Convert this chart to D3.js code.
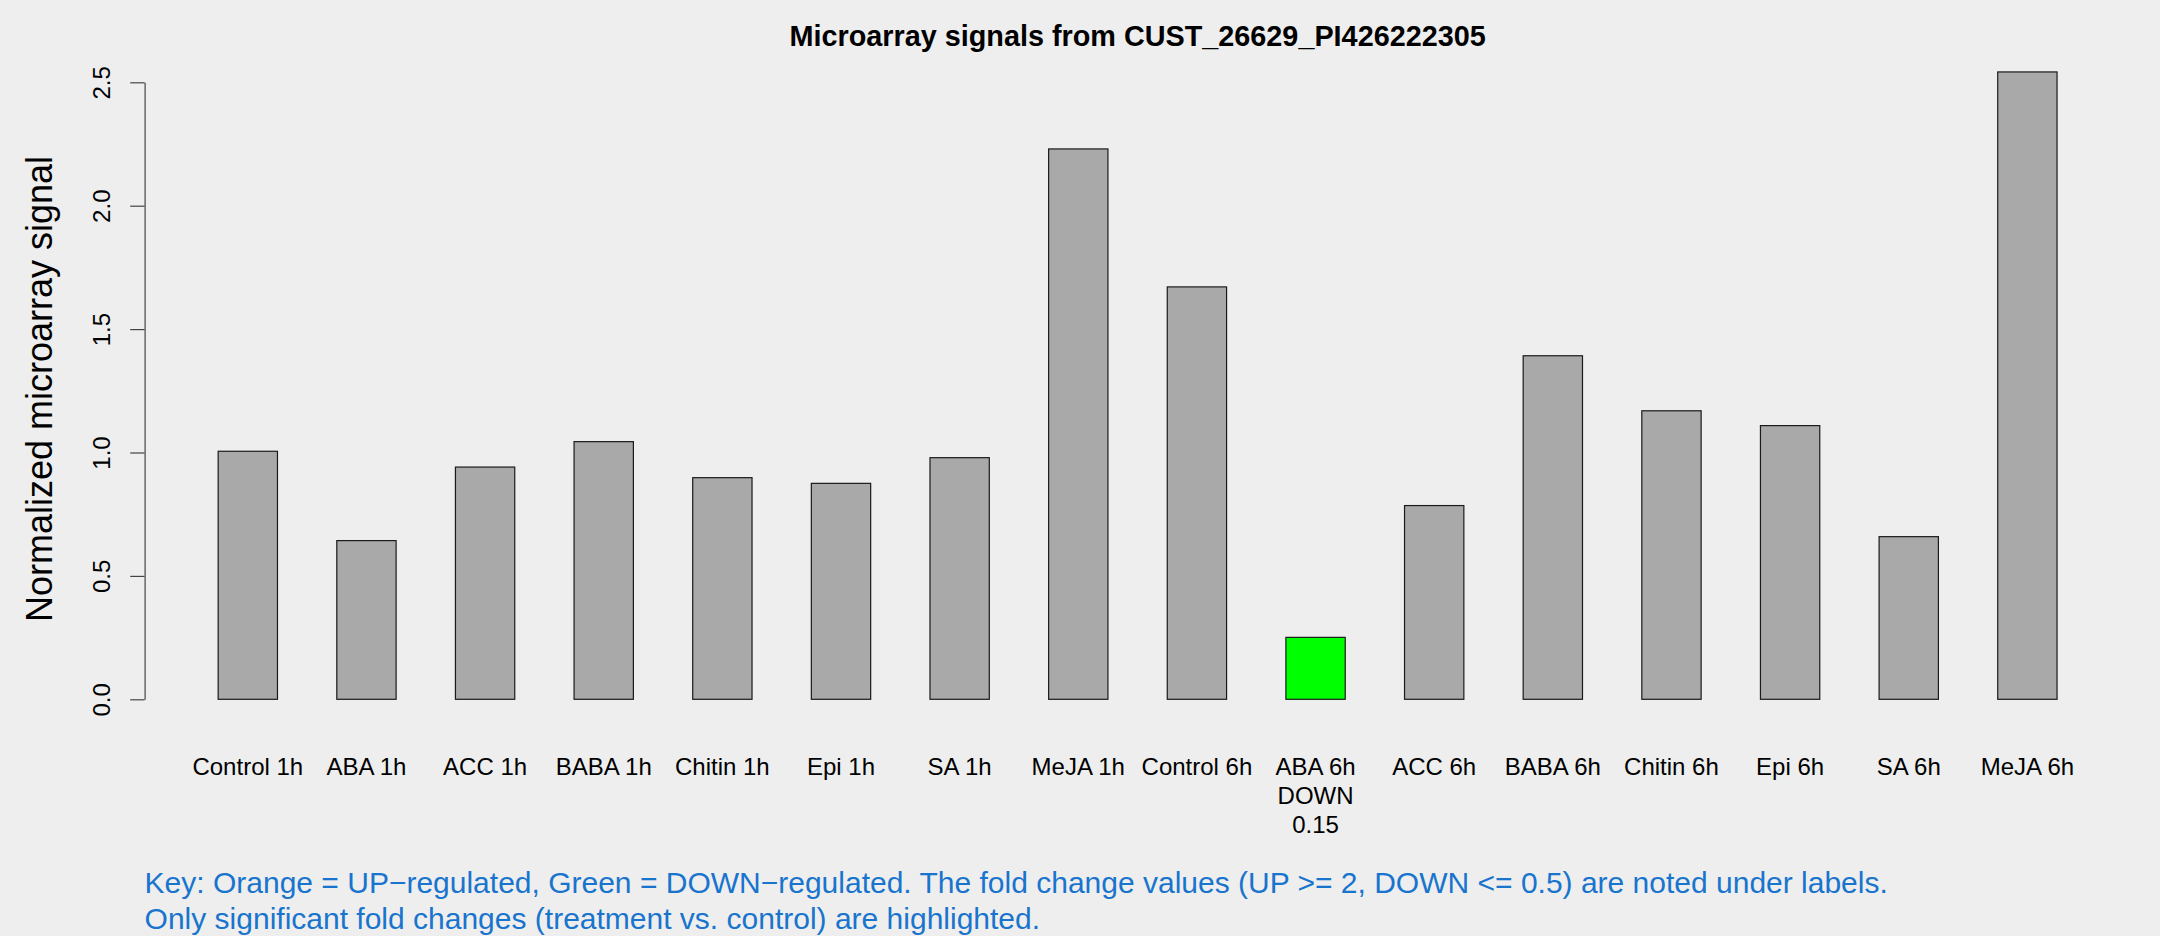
<!DOCTYPE html>
<html>
<head>
<meta charset="utf-8">
<script src="https://cdn.jsdelivr.net/npm/d3@7"></script>
<style>
  html, body { margin: 0; padding: 0; background: #EEEEEE; }
  svg { display: block; }
  text { font-family: "Liberation Sans", Arial, Helvetica, sans-serif; }
</style>
</head>
<body>
<svg id="chart" width="2160" height="936"></svg>
<script>
const categories = ["Control 1h","ABA 1h","ACC 1h","BABA 1h","Chitin 1h","Epi 1h","SA 1h","MeJA 1h",
                    "Control 6h","ABA 6h","ACC 6h","BABA 6h","Chitin 6h","Epi 6h","SA 6h","MeJA 6h"];
const values = [1.005, 0.643, 0.941, 1.044, 0.898, 0.875, 0.979, 2.230,
                1.671, 0.251, 0.785, 1.392, 1.169, 1.109, 0.659, 2.542];
const regulation = ["","","","","","","","", "","DOWN","","","","","",""];
const foldChange = ["","","","","","","","", "","0.15","","","","","",""];
const yTicks = [0, 0.5, 1.0, 1.5, 2.0, 2.5];
const titleText = "Microarray signals from CUST_26629_PI426222305";
const yLabel = "Normalized microarray signal";
const keyLines = [
  "Key: Orange = UP\u2212regulated, Green = DOWN\u2212regulated. The fold change values (UP >= 2, DOWN <= 0.5) are noted under labels.",
  "Only significant fold changes (treatment vs. control) are highlighted."
];
const colorFor = r => r === "DOWN" ? "#00FF00" : (r === "UP" ? "orange" : "#A9A9A9");

const svg = d3.select("#chart");
svg.append("rect").attr("width", 2160).attr("height", 936).attr("fill", "#EEEEEE");

// R barplot style: bar i spans [1+2i, 2+2i], plot extends 4% past [1, 32]
const n = categories.length;
const xLo = 1 - 0.04 * (2 * n - 1), xHi = 2 * n + 0.04 * (2 * n - 1);
const x = d3.scaleLinear().domain([xLo, xHi]).range([144.6, 2130.6]);
const y = d3.scaleLinear().domain([0, 2.5]).range([699.3, 82.3]);

// bars
svg.append("g").selectAll("rect").data(values).join("rect")
  .attr("x", (d, i) => x(1 + 2 * i))
  .attr("width", (d, i) => x(2 + 2 * i) - x(1 + 2 * i))
  .attr("y", d => y(d))
  .attr("height", d => y(0) - y(d))
  .attr("fill", (d, i) => colorFor(regulation[i]))
  .attr("stroke", "#1a1a1a")
  .attr("stroke-width", 1.2);

// y axis
const yAxis = d3.axisLeft(y).tickValues(yTicks).tickSizeInner(14.4).tickSizeOuter(0)
  .tickFormat(d3.format(".1f"));
const gy = svg.append("g").attr("transform", "translate(144.6,0)").call(yAxis);
gy.select(".domain").attr("stroke", "#444").attr("stroke-width", 1.2);
gy.selectAll(".tick line").attr("stroke", "#444").attr("stroke-width", 1.2);
gy.selectAll(".tick text").remove();
gy.selectAll(".tick").append("text")
  .attr("transform", "translate(-35,0) rotate(-90)")
  .attr("text-anchor", "middle")
  .attr("fill", "#000")
  .style("font-size", "24px")
  .text(d => d3.format(".1f")(d));

// y label
svg.append("text")
  .attr("transform", "translate(51.5,389) rotate(-90)")
  .attr("text-anchor", "middle")
  .style("font-size", "36px")
  .attr("fill", "#000")
  .text(yLabel);

// title
svg.append("text")
  .attr("x", (x.range()[0] + x.range()[1]) / 2)
  .attr("y", 46)
  .attr("text-anchor", "middle")
  .style("font-size", "28.8px")
  .style("font-weight", "bold")
  .attr("fill", "#000")
  .text(titleText);

// x labels
const lab = svg.append("g").selectAll("text").data(categories).join("text")
  .attr("x", (d, i) => x(1.5 + 2 * i))
  .attr("y", 775)
  .attr("text-anchor", "middle")
  .style("font-size", "24px")
  .attr("fill", "#000");
lab.each(function(d, i) {
  const t = d3.select(this);
  t.append("tspan").attr("x", x(1.5 + 2 * i)).attr("dy", 0).text(d);
  if (regulation[i]) {
    t.append("tspan").attr("x", x(1.5 + 2 * i)).attr("dy", 28.8).text(regulation[i]);
    t.append("tspan").attr("x", x(1.5 + 2 * i)).attr("dy", 28.8).text(foldChange[i]);
  }
});

// key text
svg.append("g").selectAll("text").data(keyLines).join("text")
  .attr("x", 144.6)
  .attr("y", (d, i) => 893 + i * 36)
  .style("font-size", "30px")
  .attr("fill", "#1874CD")
  .text(d => d);
</script>
</body>
</html>
